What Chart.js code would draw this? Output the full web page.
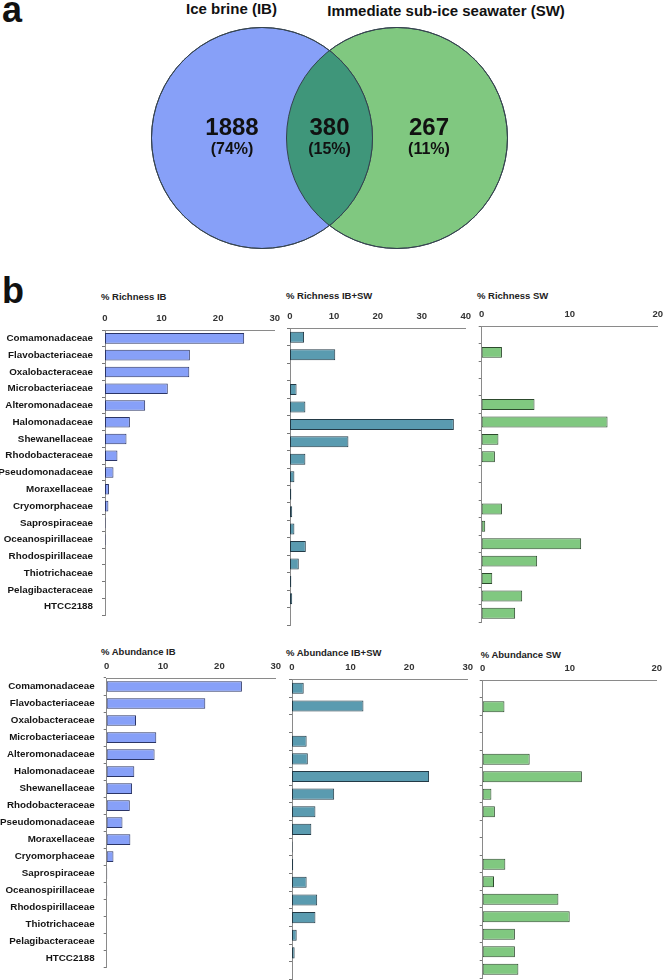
<!DOCTYPE html>
<html>
<head>
<meta charset="utf-8">
<script src="https://cdn.jsdelivr.net/npm/chart.js@4.4.0/dist/chart.umd.min.js"></script>
<style>
  body { margin: 0; background: #fff; }
  #page { position: relative; width: 664px; height: 980px; overflow: hidden; font-family: "Liberation Sans", Arial, sans-serif; }
  .txt { position: absolute; font-weight: bold; white-space: nowrap; line-height: 1; color: #111; }
  .head { font-size: 9.5px; color: #222; }
  canvas { position: absolute; }
</style>
</head>
<body>
<div id="page">
  <div class="txt" style="left:2px;top:-8.5px;font-size:36px;">a</div>
  <div class="txt" style="left:2px;top:272.5px;font-size:36px;">b</div>
  <div class="txt" id="setA" style="left:231.5px;top:0.6px;font-size:15px;transform:translateX(-50%);"></div>
  <div class="txt" id="setB" style="left:446px;top:2.8px;font-size:15px;transform:translateX(-50%);"></div>

  <div class="txt head" style="left:101px;top:292px;">% Richness IB</div>
  <div class="txt head" style="left:286px;top:291px;">% Richness IB+SW</div>
  <div class="txt head" style="left:477px;top:291px;">% Richness SW</div>
  <div class="txt head" style="left:101px;top:647px;">% Abundance IB</div>
  <div class="txt head" style="left:286px;top:647.7px;">% Abundance IB+SW</div>
  <div class="txt head" style="left:480.7px;top:650.3px;">% Abundance SW</div>

  <canvas id="venn" width="664" height="260" style="left:0;top:0;"></canvas>
  <canvas id="richIB"></canvas>
  <canvas id="richMix"></canvas>
  <canvas id="richSW"></canvas>
  <canvas id="abunIB"></canvas>
  <canvas id="abunMix"></canvas>
  <canvas id="abunSW"></canvas>
</div>
<script>
const family = "'Liberation Sans', Arial, sans-serif";

// venn counts
const vennSetNames = ["Ice brine (IB)", "Immediate sub-ice seawater (SW)"];
const vennCounts = [1888, 380, 267];
const vennShares = ["(74%)", "(15%)", "(11%)"];

// bacterial families, top to bottom
const families = [
  "Comamonadaceae", "Flavobacteriaceae", "Oxalobacteraceae", "Microbacteriaceae",
  "Alteromonadaceae", "Halomonadaceae", "Shewanellaceae", "Rhodobacteraceae",
  "Pseudomonadaceae", "Moraxellaceae", "Cryomorphaceae", "Saprospiraceae",
  "Oceanospirillaceae", "Rhodospirillaceae", "Thiotrichaceae", "Pelagibacteraceae",
  "HTCC2188"
];

const richnessIB = [24.6, 15.0, 14.9, 11.1, 7.1, 4.4, 3.8, 2.2, 1.5, 0.7, 0.6, 0.1, 0.1, 0, 0, 0, 0];
const richnessIBSW = [3.2, 10.3, 0, 1.5, 3.5, 37.3, 13.3, 3.5, 1.0, 0.3, 0.5, 1.0, 3.6, 2.0, 0.3, 0.5, 0];
const richnessSW = [0, 2.3, 0, 0, 6.0, 14.3, 1.9, 1.5, 0, 0, 2.3, 0.4, 11.3, 6.3, 1.2, 4.6, 3.8];

const abundanceIB = [24.0, 17.5, 5.2, 8.8, 8.5, 4.9, 4.5, 4.1, 2.8, 4.2, 1.2, 0.1, 0.1, 0, 0, 0, 0];
const abundanceIBSW = [2.0, 12.2, 0, 2.5, 2.7, 23.4, 7.2, 4.0, 3.3, 0.1, 0.2, 2.5, 4.3, 4.0, 0.8, 0.45, 0];
const abundanceSW = [0, 2.5, 0, 0, 5.4, 11.4, 1.0, 1.4, 0, 0, 2.6, 1.3, 8.7, 10.0, 3.7, 3.7, 4.1];

const blueFill = "#87a0f8";
const tealFill = "#5a9bb0";
const greenFill = "#80c880";
const lensFill = "#3f967a";

document.getElementById("setA").textContent = vennSetNames[0];
document.getElementById("setB").textContent = vennSetNames[1];

// paints the overlap and the counts
const vennLens = {
  id: "vennLens",
  afterDatasetsDraw(chart) {
    const ctx = chart.ctx;
    const a = chart.getDatasetMeta(0).data[0];
    const b = chart.getDatasetMeta(1).data[0];
    const r = chart.data.datasets[0].pointRadius;
    ctx.save();
    ctx.beginPath();
    ctx.arc(a.x, a.y, r, 0, Math.PI * 2);
    ctx.clip();
    ctx.beginPath();
    ctx.arc(b.x, b.y, r, 0, Math.PI * 2);
    ctx.fillStyle = lensFill;
    ctx.fill();
    ctx.restore();

    ctx.save();
    ctx.lineWidth = 1;
    ctx.strokeStyle = "#34424e";
    [a, b].forEach((p) => {
      ctx.beginPath();
      ctx.arc(p.x, p.y, r, 0, Math.PI * 2);
      ctx.stroke();
    });
    const xs = [a.x - 30, (a.x + b.x) / 2, b.x + 32];
    ctx.fillStyle = "#111";
    ctx.textAlign = "center";
    xs.forEach((x, i) => {
      ctx.font = "bold 24px " + family;
      ctx.fillText(vennCounts[i], x, a.y - 3);
      ctx.font = "bold 16px " + family;
      ctx.fillText(vennShares[i], x, a.y + 16);
    });
    ctx.restore();
  }
};

new Chart(document.getElementById("venn"), {
  type: "scatter",
  data: {
    datasets: [
      { data: [{ x: 0, y: 0 }], clip: false, pointRadius: 110.5, pointBackgroundColor: blueFill, pointBorderColor: "#34424e", pointBorderWidth: 1 },
      { data: [{ x: 1, y: 0 }], clip: false, pointRadius: 110.5, pointBackgroundColor: greenFill, pointBorderColor: "#34424e", pointBorderWidth: 1 }
    ]
  },
  options: {
    responsive: false,
    animation: false,
    events: [],
    layout: { autoPadding: false, padding: 0 },
    plugins: { legend: { display: false }, tooltip: { enabled: false } },
    scales: {
      x: { type: "linear", display: false, min: -1.9407, max: 2.9778 },
      y: { type: "linear", display: false, min: -0.9385, max: 1.0615 }
    }
  },
  plugins: [vennLens]
});

function barChart(id, area, axisW, values, max, fill, border, showNames) {
  const canvas = document.getElementById(id);
  const left = Math.floor(area.l - axisW);
  const top = Math.floor(area.t - 30);
  const width = Math.ceil(area.r + 10) - left;
  const height = Math.ceil(area.b + 4) - top;
  canvas.width = width;
  canvas.height = height;
  canvas.style.left = left + "px";
  canvas.style.top = top + "px";

  return new Chart(canvas, {
    type: "bar",
    data: {
      labels: families,
      datasets: [{
        data: values,
        backgroundColor: fill,
        borderColor: border,
        borderWidth: 1,
        borderSkipped: false,
        barPercentage: 0.63,
        categoryPercentage: 1
      }]
    },
    options: {
      indexAxis: "y",
      responsive: false,
      animation: false,
      events: [],
      layout: { padding: { left: 0, top: 0, right: left + width - area.r, bottom: top + height - area.b } },
      plugins: { legend: { display: false }, tooltip: { enabled: false } },
      scales: {
        x: {
          position: "top",
          min: 0,
          max: max,
          ticks: { stepSize: 10, padding: 6, color: "#333", font: { size: 9.5, weight: "bold", family: family } },
          grid: { display: false, drawTicks: false },
          border: { color: "#8a8a8a", width: 1 },
          afterFit: (s) => { s.height = area.t - top; }
        },
        y: {
          ticks: { display: showNames, autoSkip: false, padding: 9, color: "#151515", font: { size: 9.8, weight: "bold", family: family } },
          grid: { drawOnChartArea: false, offset: true, tickLength: 3, color: "#777" },
          border: { color: "#8a8a8a", width: 1 },
          afterFit: (s) => { s.width = area.l - left; }
        }
      }
    }
  });
}

barChart("richIB", { l: 105, r: 275.5, t: 330, b: 626 }, 105, richnessIB, 30, blueFill, "#2b3566", true);
barChart("richMix", { l: 290, r: 466.7, t: 328.5, b: 625 }, 10, richnessIBSW, 40, tealFill, "#233a46", false);
barChart("richSW", { l: 481.7, r: 659, t: 326.3, b: 622 }, 10, richnessSW, 20, greenFill, "#2d4a2d", false);

barChart("abunIB", { l: 106.7, r: 276.7, t: 678, b: 978 }, 106.7, abundanceIB, 30, blueFill, "#2b3566", true);
barChart("abunMix", { l: 292, r: 468.7, t: 679.5, b: 979.3 }, 10, abundanceIBSW, 30, tealFill, "#233a46", false);
barChart("abunSW", { l: 482.7, r: 658, t: 680.4, b: 978 }, 10, abundanceSW, 20, greenFill, "#2d4a2d", false);
</script>
</body>
</html>
